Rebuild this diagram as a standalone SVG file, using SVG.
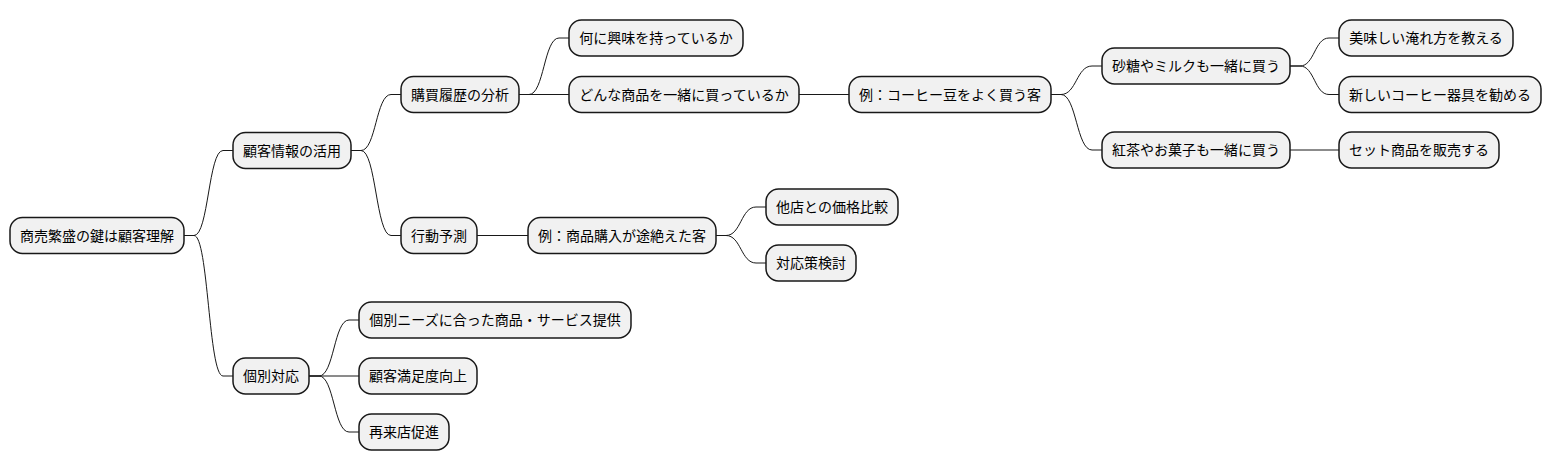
<svg xmlns="http://www.w3.org/2000/svg" width="1552" height="471" viewBox="0 0 1552 471">
<style>
.n rect{fill:#F1F1F1;stroke:#181818;stroke-width:1.5}
.n text{font-family:"Noto Sans CJK JP","Noto Sans",sans-serif;font-size:14px;fill:#000;text-anchor:middle}
#links path{fill:none;stroke:#181818;stroke-width:1}
</style>
<rect width="1552" height="471" fill="#FFFFFF"/>
<g id="links">
<path d="M184,235.5 H194 C208.5,235.5 208.5,150.5 223,150.5 H233"/>
<path d="M184,235.5 H194 C208.5,235.5 208.5,376 223,376 H233"/>
<path d="M351,150.5 H361 C376,150.5 376,94.5 391,94.5 H401"/>
<path d="M351,150.5 H361 C376,150.5 376,235.5 391,235.5 H401"/>
<path d="M519,94.5 H529 C544,94.5 544,38 559,38 H569"/>
<path d="M519,94.5 H569"/>
<path d="M799,94.5 H849"/>
<path d="M1051,94.5 H1061 C1076.5,94.5 1076.5,66 1092,66 H1102"/>
<path d="M1051,94.5 H1061 C1076.5,94.5 1076.5,150 1092,150 H1102"/>
<path d="M1290,66 H1300 C1314.5,66 1314.5,38 1329,38 H1339"/>
<path d="M1290,66 H1300 C1314.5,66 1314.5,94.5 1329,94.5 H1339"/>
<path d="M1290,150 H1339"/>
<path d="M477,235.5 H528"/>
<path d="M716,235.5 H726 C741,235.5 741,207 756,207 H766"/>
<path d="M716,235.5 H726 C741,235.5 741,263 756,263 H766"/>
<path d="M309,376 H319 C334,376 334,320 349,320 H359"/>
<path d="M309,376 H359"/>
<path d="M309,376 H319 C334,376 334,432 349,432 H359"/>
</g>
<g id="root" class="n"><rect x="10" y="217.5" width="174" height="36" rx="12.5"/><text x="97" y="240.5">商売繁盛の鍵は顧客理解</text></g>
<g id="n1" class="n"><rect x="233" y="132.5" width="118" height="36" rx="12.5"/><text x="292" y="155.5">顧客情報の活用</text></g>
<g id="n2" class="n"><rect x="233" y="358" width="76" height="36" rx="12.5"/><text x="271" y="381">個別対応</text></g>
<g id="n11" class="n"><rect x="401" y="76.5" width="118" height="36" rx="12.5"/><text x="460" y="99.5">購買履歴の分析</text></g>
<g id="n12" class="n"><rect x="401" y="217.5" width="76" height="36" rx="12.5"/><text x="439" y="240.5">行動予測</text></g>
<g id="n111" class="n"><rect x="569" y="20" width="174" height="36" rx="12.5"/><text x="656" y="43">何に興味を持っているか</text></g>
<g id="n112" class="n"><rect x="569" y="76.5" width="230" height="36" rx="12.5"/><text x="684" y="99.5">どんな商品を一緒に買っているか</text></g>
<g id="n1121" class="n"><rect x="849" y="76.5" width="202" height="36" rx="12.5"/><text x="950" y="99.5">例：コーヒー豆をよく買う客</text></g>
<g id="n11211" class="n"><rect x="1102" y="48" width="188" height="36" rx="12.5"/><text x="1196" y="71">砂糖やミルクも一緒に買う</text></g>
<g id="n11212" class="n"><rect x="1102" y="132" width="188" height="36" rx="12.5"/><text x="1196" y="155">紅茶やお菓子も一緒に買う</text></g>
<g id="n112111" class="n"><rect x="1339" y="20" width="174" height="36" rx="12.5"/><text x="1426" y="43">美味しい淹れ方を教える</text></g>
<g id="n112112" class="n"><rect x="1339" y="76.5" width="202" height="36" rx="12.5"/><text x="1440" y="99.5">新しいコーヒー器具を勧める</text></g>
<g id="n112121" class="n"><rect x="1339" y="132" width="160" height="36" rx="12.5"/><text x="1419" y="155">セット商品を販売する</text></g>
<g id="n121" class="n"><rect x="528" y="217.5" width="188" height="36" rx="12.5"/><text x="622" y="240.5">例：商品購入が途絶えた客</text></g>
<g id="n1211" class="n"><rect x="766" y="189" width="132" height="36" rx="12.5"/><text x="832" y="212">他店との価格比較</text></g>
<g id="n1212" class="n"><rect x="766" y="245" width="90" height="36" rx="12.5"/><text x="811" y="268">対応策検討</text></g>
<g id="n21" class="n"><rect x="359" y="302" width="272" height="36" rx="12.5"/><text x="495" y="325">個別ニーズに合った商品・サービス提供</text></g>
<g id="n22" class="n"><rect x="359" y="358" width="118" height="36" rx="12.5"/><text x="418" y="381">顧客満足度向上</text></g>
<g id="n23" class="n"><rect x="359" y="414" width="90" height="36" rx="12.5"/><text x="404" y="437">再来店促進</text></g>
</svg>
